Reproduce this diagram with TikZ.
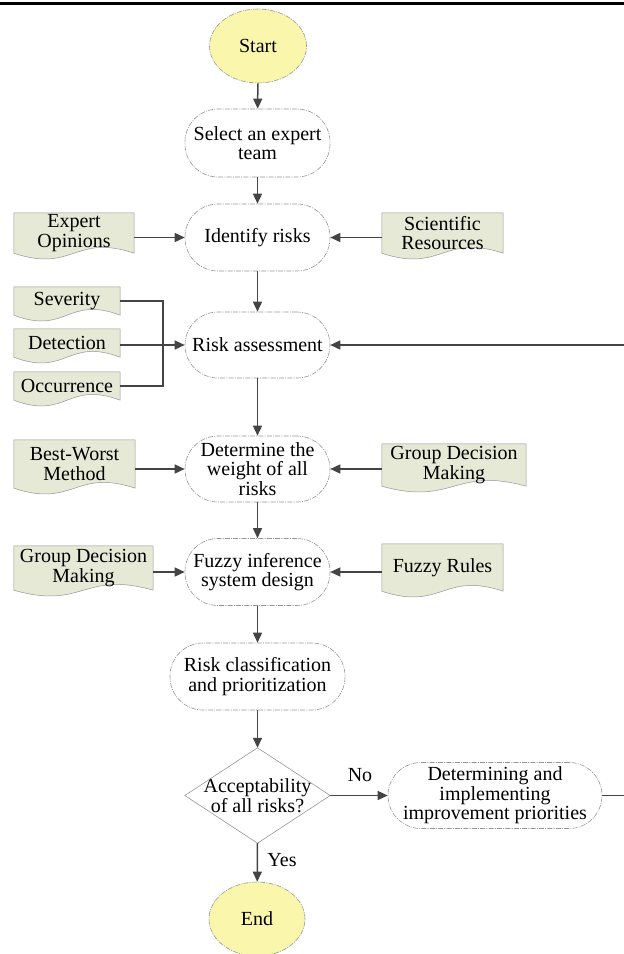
\documentclass[tikz,border=0pt]{standalone}
\usepackage{fontspec}
\setmainfont{Liberation Serif}
\usetikzlibrary{shapes.geometric,arrows.meta,backgrounds,calc}
\definecolor{docfill}{RGB}{229,233,213}
\definecolor{termfill}{RGB}{250,246,172}
\definecolor{arrcol}{RGB}{68,68,68}
\definecolor{edgecol}{RGB}{150,150,150}
\tikzset{
  base/.style={font=\fontsize{20}{19.5}\selectfont, align=center, inner sep=0pt, text=black},
  stadium/.style={base, draw=edgecol, line width=0.6pt, dash pattern=on 5pt off 1.2pt on 1pt off 1.2pt, rounded corners=33pt, minimum width=145, minimum height=67},
  term/.style={base, ellipse, draw=edgecol, fill=termfill, line width=0.6pt, dash pattern=on 5pt off 1.2pt on 1pt off 1.2pt, minimum width=97, minimum height=74},
  doctext/.style={base},
  docshape/.style={fill=docfill, draw=edgecol, line width=0.5pt},
  diamondline/.style={draw=edgecol, line width=0.6pt},
  arr/.style={draw=arrcol, line width=1.5pt, -{Triangle[length=10pt,width=9pt]}},
  plainline/.style={draw=arrcol, line width=1.5pt},
  lbl/.style={font=\fontsize{20}{20}\selectfont, inner sep=0pt}
}
\newcommand\docbg[2]{\path[docshape] (#1.north west) -- (#1.north east) -- (#1.south east) .. controls +(-#2pt,20pt) and +(#2pt,-20pt) .. (#1.south west) -- cycle;}
\begin{document}
\begin{tikzpicture}[x=1pt,y=-1pt]
\useasboundingbox (0,0) rectangle (624,954);
\draw[line width=3pt] (0,3) -- (624,3);

% main column
\node[term] (start) at (258,46) {Start};
\node[stadium, minimum height=68] (sel) at (257.5,143) {Select an expert\\team};
\node[stadium] (id) at (257.5,237.5) {Identify risks};
\node[stadium, minimum height=66] (ra) at (257.5,345) {Risk assessment};
\node[stadium, minimum height=66] (dw) at (257.5,469) {Determine the\\weight of all\\risks};
\node[stadium] (fis) at (257.5,572) {Fuzzy inference\\system design};
\node[stadium, minimum width=175] (rc) at (257.5,676.5) {Risk classification\\and prioritization};
\node[base, minimum width=145, minimum height=95] (acc) at (257.5,795.5) {Acceptability\\of all risks?};
\draw[diamondline] (acc.north) -- (acc.east) -- (acc.south) -- (acc.west) -- cycle;
\node[stadium, minimum width=214, minimum height=66] (dip) at (495,795.5) {Determining and\\implementing\\improvement priorities};
\node[term, minimum width=96] (end) at (257,919) {End};

% documents
\node[doctext, minimum width=120, minimum height=40] (eo) at (74,233) {Expert\\Opinions};
\node[doctext, minimum width=121, minimum height=40] (sr) at (442.5,233) {Scientific\\Resources};
\node[doctext, minimum width=106, minimum height=28] (sev) at (67,301) {Severity};
\node[doctext, minimum width=106, minimum height=28] (det) at (67,343) {Detection};
\node[doctext, minimum width=106, minimum height=28] (occ) at (67,386) {Occurrence};
\node[doctext, minimum width=121, minimum height=48] (bw) at (74.5,464) {Best-Worst\\Method};
\node[doctext, minimum width=144, minimum height=42] (gdr) at (454,465) {Group Decision\\Making};
\node[doctext, minimum width=139, minimum height=44] (gdl) at (83.5,568) {Group Decision\\Making};
\node[doctext, minimum width=121, minimum height=47] (fr) at (442.5,567.5) {Fuzzy Rules};

\begin{scope}[on background layer]
\docbg{eo}{60}
\docbg{sr}{60}
\docbg{sev}{53}
\docbg{det}{53}
\docbg{occ}{53}
\docbg{bw}{60}
\docbg{gdr}{72}
\docbg{gdl}{70}
\docbg{fr}{60}
\end{scope}

% labels
\node[lbl] (no) at (360,775) {No};
\node[lbl] (yes) at (282,860) {Yes};

% connectors
\coordinate (jn) at (163,345);
\coordinate (fbx) at (624.5,795.5);
\draw[arr] (start) -- (sel);
\draw[arr] (sel) -- (id);
\draw[arr] (id) -- (ra);
\draw[arr] (ra) -- (dw);
\draw[arr] (dw) -- (fis);
\draw[arr] (fis) -- (rc);
\draw[arr] (rc) -- (acc.north);
\draw[arr] (acc.south) -- (end);
\draw[arr] (acc.east) -- (dip.west);
\draw[arr] (dip.east) -- (fbx) |- (ra.east);
\draw[arr] (eo.east |- id.west) -- (id.west);
\draw[arr] (sr.west |- id.east) -- (id.east);
\draw[plainline] (sev.east) -| (jn) |- (occ.east);
\draw[arr] (det.east |- ra.west) -- (ra.west);
\draw[arr] (bw.east |- dw.west) -- (dw.west);
\draw[arr] (gdr.west |- dw.east) -- (dw.east);
\draw[arr] (gdl.east |- fis.west) -- (fis.west);
\draw[arr] (fr.west |- fis.east) -- (fis.east);
\end{tikzpicture}
\end{document}
